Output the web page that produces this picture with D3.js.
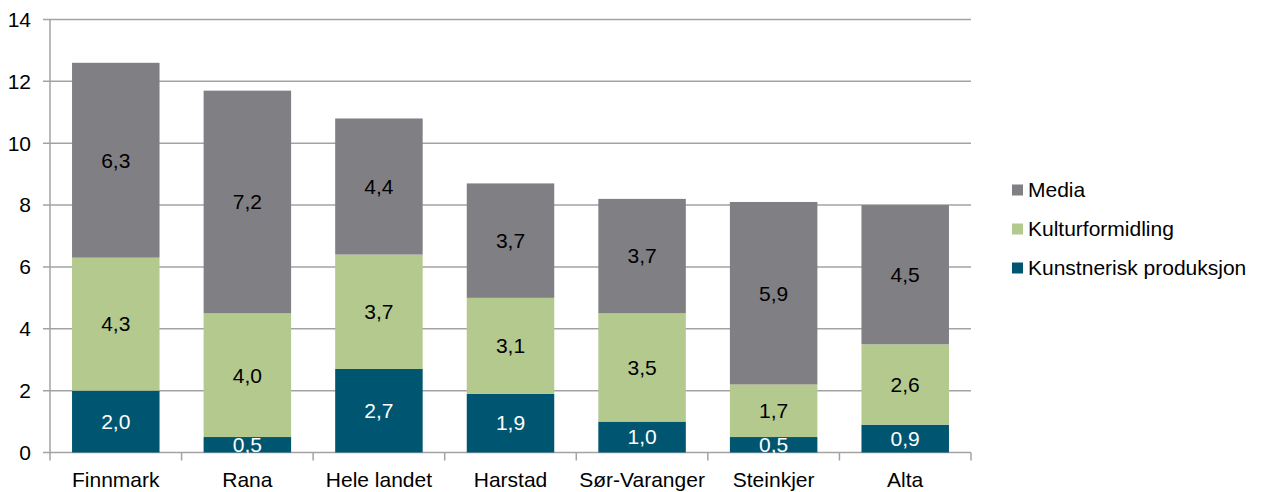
<!DOCTYPE html>
<html>
<head>
<meta charset="utf-8">
<title>Stacked bars</title>
<style>
body { margin: 0; background: #fff; }
svg text { font-family: "Liberation Sans", Arial, sans-serif; }
</style>
<script src="https://d3js.org/d3.v7.min.js"></script>
</head>
<body>
<div id="chart"></div>
<script>
var categories = ['Finnmark', 'Rana', 'Hele landet', 'Harstad', 'Sør-Varanger', 'Steinkjer', 'Alta'];
var kunstnerisk = [2.0, 0.5, 2.7, 1.9, 1.0, 0.5, 0.9];
var kultur = [4.3, 4.0, 3.7, 3.1, 3.5, 1.7, 2.6];
var media = [6.3, 7.2, 4.4, 3.7, 3.7, 5.9, 4.5];
var yTicks = [0, 2, 4, 6, 8, 10, 12, 14];

var series = [
    {name: 'Kunstnerisk produksjon', values: kunstnerisk, color: '#005670', text: '#fff'},
    {name: 'Kulturformidling', values: kultur, color: '#b3c98e', text: '#000'},
    {name: 'Media', values: media, color: '#807f84', text: '#000'}
];

var width = 1262, height = 492;
var plotLeft = 50, plotRight = 971, plotTop = 19.5, plotBottom = 452.5;
var fontSize = '21px';

var svg = d3.select('#chart').append('svg')
    .attr('width', width)
    .attr('height', height);

var x = d3.scaleBand().domain(categories).range([plotLeft, plotRight]).paddingInner(0.335).paddingOuter(0.1675);
var y = d3.scaleLinear().domain([0, 14]).range([plotBottom, plotTop]);

// gridlines
svg.append('g').selectAll('line').data(yTicks).enter().append('line')
    .attr('x1', plotLeft - 7).attr('x2', plotRight)
    .attr('y1', function(d){ return y(d); })
    .attr('y2', function(d){ return y(d); })
    .attr('stroke', '#a3a3a3').attr('stroke-width', 1.5);

// y labels
svg.append('g').selectAll('text').data(yTicks).enter().append('text')
    .attr('x', 31).attr('y', function(d){ return y(d); })
    .attr('dy', '0.35em').attr('text-anchor', 'end')
    .style('font-size', fontSize).text(function(d){ return d; });

// stacked bars
var stacked = categories.map(function(c, i){
    var base = 0;
    return series.map(function(s){
        var seg = {cat: c, v: s.values[i], y0: base, y1: base + s.values[i], s: s};
        base += s.values[i];
        return seg;
    });
});

var cols = svg.append('g').selectAll('g').data(stacked).enter().append('g');

cols.selectAll('rect').data(function(d){ return d; }).enter().append('rect')
    .attr('x', function(d){ return x(d.cat); })
    .attr('width', x.bandwidth())
    .attr('y', function(d){ return y(d.y1); })
    .attr('height', function(d){ return y(d.y0) - y(d.y1); })
    .attr('fill', function(d){ return d.s.color; });

cols.selectAll('text').data(function(d){ return d; }).enter().append('text')
    .attr('x', function(d){ return x(d.cat) + x.bandwidth() / 2; })
    .attr('y', function(d){ return (y(d.y0) + y(d.y1)) / 2; })
    .attr('dy', '0.35em').attr('text-anchor', 'middle')
    .attr('fill', function(d){ return d.s.text; })
    .style('font-size', fontSize)
    .text(function(d){ return d.v.toFixed(1).replace('.', ','); });

// axis lines
svg.append('line').attr('x1', plotLeft).attr('x2', plotLeft)
    .attr('y1', plotTop).attr('y2', plotBottom + 1)
    .attr('stroke', '#a3a3a3').attr('stroke-width', 1.5);

var xt = d3.range(categories.length + 1).map(function(i){ return plotLeft + i * x.step(); });
svg.append('g').selectAll('line').data(xt).enter().append('line')
    .attr('x1', function(d){ return d; }).attr('x2', function(d){ return d; })
    .attr('y1', plotBottom).attr('y2', plotBottom + 8)
    .attr('stroke', '#a3a3a3').attr('stroke-width', 1.5);

svg.append('g').selectAll('text').data(categories).enter().append('text')
    .attr('x', function(d){ return x(d) + x.bandwidth() / 2; })
    .attr('y', 480).attr('dy', '0.35em').attr('text-anchor', 'middle')
    .style('font-size', fontSize).text(function(d){ return d; });

// legend
var legend = svg.append('g').selectAll('g').data(series.slice().reverse()).enter().append('g')
    .attr('transform', function(d, i){ return 'translate(1012,' + (190 + i * 39) + ')'; });
legend.append('rect').attr('x', 0).attr('y', -5.5).attr('width', 11).attr('height', 11)
    .attr('fill', function(d){ return d.color; });
legend.append('text').attr('x', 16).attr('y', 0).attr('dy', '0.35em')
    .style('font-size', fontSize).text(function(d){ return d.name; });
</script>
</body>
</html>
